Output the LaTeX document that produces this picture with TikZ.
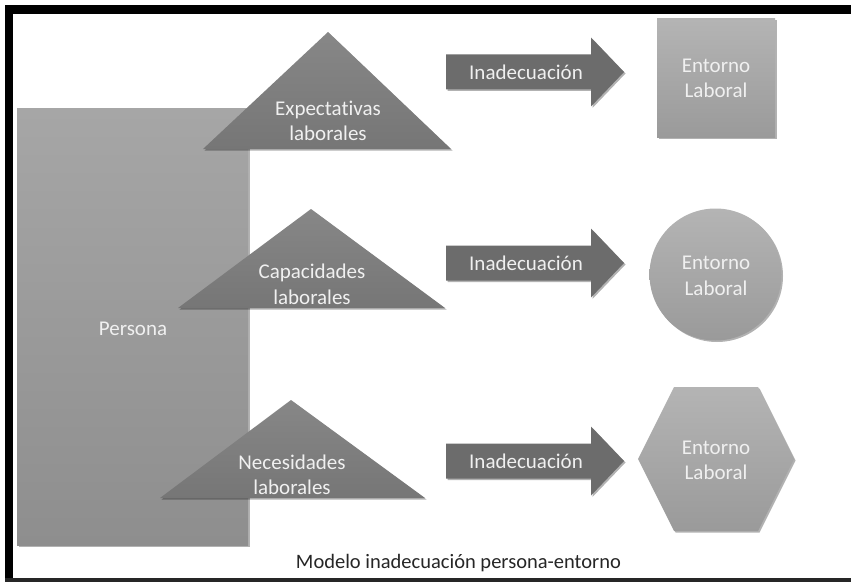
\documentclass[tikz,border=0pt]{standalone}
\usepackage{fontspec}
\setmainfont{Carlito}[Ligatures=NoCommon]
\usetikzlibrary{shadows}
\definecolor{persT}{HTML}{A6A6A6}
\definecolor{persB}{HTML}{8E8E8E}
\definecolor{triT}{HTML}{878787}
\definecolor{triB}{HTML}{767676}
\definecolor{arrC}{HTML}{6C6C6C}
\definecolor{envT}{HTML}{B4B4B4}
\definecolor{envB}{HTML}{9A9A9A}
\definecolor{labeltxt}{HTML}{F0F0F0}
\begin{document}
\begin{tikzpicture}[x=1pt,y=-1pt,
  lbl/.style={text=labeltxt, font=\fontsize{21}{25.5}\selectfont, align=center, inner sep=0pt},
  sh/.style={drop shadow={shadow xshift=1.5pt,shadow yshift=-1.5pt,opacity=0.3,fill=black}},
  persfill/.style={top color=persT,bottom color=persB},
  trifill/.style={top color=triT,bottom color=triB},
  arrfill/.style={fill=arrC},
  envfill/.style={top color=envT,bottom color=envB},
  captionstyle/.style={font=\fontsize{20.5}{24}\selectfont, text=black!85, inner sep=0pt}]
\useasboundingbox (0,0) rectangle (851,583);
\fill[white] (0,0) rectangle (851,583);
% frame
\fill[black] (5,5) rectangle (851,14);
\fill[black] (5,5) rectangle (13,582);
\fill[black!85] (5,578) rectangle (851,582);
% persona
\path[persfill,sh] (17,109) rectangle (248,545);
\node[lbl] (persona) at (133,329) {Persona};
% triangles
\path[trifill,sh] (328,32) -- (451,149) -- (203,149) -- cycle;
\node[lbl] (expect) at (328,121) {Expectativas\\laborales};
\path[trifill,sh] (311,209) -- (445,308) -- (178,308) -- cycle;
\node[lbl] (capac) at (312,284.5) {Capacidades\\laborales};
\path[trifill,sh] (291,400) -- (425,498) -- (160,498) -- cycle;
\node[lbl] (neces) at (292,475) {Necesidades\\laborales};
% block arrows
\foreach \y/\n in {72/a, 263/b, 461/c}{
  \path[arrfill,sh] (446,\y-17.5) -- (591,\y-17.5) -- (591,\y-34.5) -- (624,\y)
     -- (591,\y+34.5) -- (591,\y+17.5) -- (446,\y+17.5) -- cycle;
  \node[lbl] (inad\n) at (526,\y) {Inadecuación};
}
% entorno shapes
\path[envfill,sh] (657,19) rectangle (775,138);
\node[lbl] (envsq) at (716,78.5) {Entorno\\Laboral};
\path[envfill,sh] (715.5,274.5) circle[radius=66];
\node[lbl] (envci) at (716,276) {Entorno\\Laboral};
\path[envfill,sh] (638,459) -- (674,387) -- (758,387) -- (794,459) -- (758,531) -- (674,531) -- cycle;
\node[lbl] (envhx) at (716,460.5) {Entorno\\Laboral};
% caption
\node[captionstyle] (caption) at (458.5,563) {Modelo inadecuación persona-entorno};
\end{tikzpicture}
\end{document}
